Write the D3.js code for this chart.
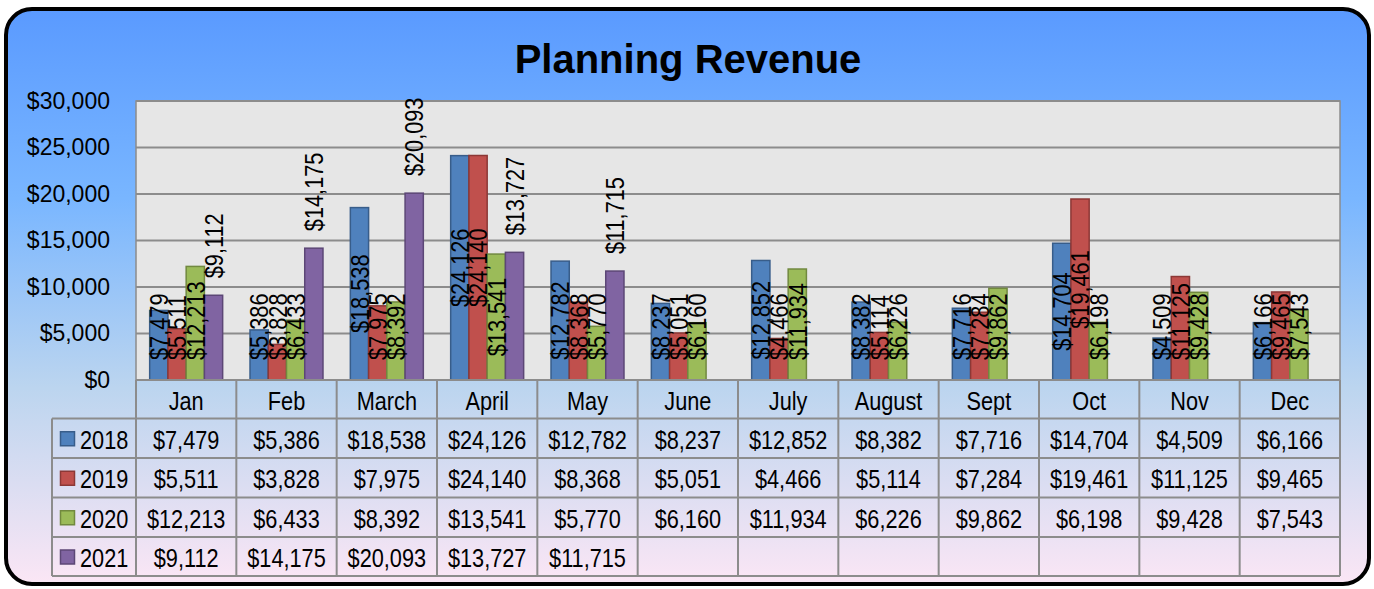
<!DOCTYPE html>
<html>
<head>
<meta charset="utf-8">
<script src="https://cdn.jsdelivr.net/npm/d3@7"></script>
<style>
  body { margin: 0; background: #fff; }
  svg { display: block; }
  .narrow { font-family: "Liberation Sans", Arial, sans-serif; }
</style>
</head>
<body>
<script>
const width = 1374;
const height = 589;

// chart data
const months = ['Jan', 'Feb', 'March', 'April', 'May', 'June', 'July', 'August', 'Sept', 'Oct', 'Nov', 'Dec'];
const years = ['2018', '2019', '2020', '2021'];
const rev2018 = [7479, 5386, 18538, 24126, 12782, 8237, 12852, 8382, 7716, 14704, 4509, 6166];
const rev2019 = [5511, 3828, 7975, 24140, 8368, 5051, 4466, 5114, 7284, 19461, 11125, 9465];
const rev2020 = [12213, 6433, 8392, 13541, 5770, 6160, 11934, 6226, 9862, 6198, 9428, 7543];
const rev2021 = [9112, 14175, 20093, 13727, 11715, null, null, null, null, null, null, null];
const yTicks = [0, 5000, 10000, 15000, 20000, 25000, 30000];

const seriesValues = [rev2018, rev2019, rev2020, rev2021];
const fills = ['#4f81bd', '#c0504d', '#9bbb59', '#8064a2'];
const strokes = ['#385d8a', '#8c3836', '#71893f', '#5c4776'];

const fmt = d3.format('$,');
// no narrow font installed, so squeeze Liberation Sans horizontally
const squeeze = 0.82;

const svg = d3.select('body').append('svg')
  .attr('width', width).attr('height', height);

const defs = svg.append('defs');
const grad = defs.append('linearGradient').attr('id', 'bg')
  .attr('x1', 0).attr('y1', 0).attr('x2', 0).attr('y2', 1);
[['0%', '#5a9aff'], ['33%', '#79b6ff'], ['66%', '#bcd5ef'], ['100%', '#fbe6f5']]
  .forEach(([o, c]) => grad.append('stop').attr('offset', o).attr('stop-color', c));

// outer rounded frame
svg.append('rect')
  .attr('x', 6).attr('y', 9).attr('width', 1363).attr('height', 575)
  .attr('rx', 26).attr('ry', 26)
  .attr('fill', 'url(#bg)').attr('stroke', '#000').attr('stroke-width', 4);

svg.append('text')
  .attr('x', 688).attr('y', 73)
  .attr('text-anchor', 'middle')
  .style('font-family', '"Liberation Sans", Arial, sans-serif')
  .style('font-weight', 'bold').style('font-size', '40px')
  .text('Planning Revenue');

const plot = {left: 136, right: 1340, top: 101, bottom: 380};

const x0 = d3.scaleBand().domain(months).range([plot.left, plot.right]).paddingInner(0).paddingOuter(0);
const x1 = d3.scaleBand().domain(years)
  .range([x0.bandwidth() * 0.75 / 5.5, x0.bandwidth() - x0.bandwidth() * 0.75 / 5.5]);
const y = d3.scaleLinear().domain([0, 30000]).range([plot.bottom, plot.top]);

svg.append('rect')
  .attr('x', plot.left).attr('y', plot.top)
  .attr('width', plot.right - plot.left).attr('height', plot.bottom - plot.top)
  .attr('fill', '#e6e6e6').attr('stroke', '#8c8c8c').attr('stroke-width', 1.5);

svg.append('g').selectAll('line').data(yTicks.slice(1)).join('line')
  .attr('x1', plot.left).attr('x2', plot.right)
  .attr('y1', d => y(d)).attr('y2', d => y(d))
  .attr('stroke', '#8c8c8c').attr('stroke-width', 2);

const yAxis = svg.append('g')
  .attr('transform', `translate(${plot.left},0)`)
  .call(d3.axisLeft(y).tickValues(yTicks).tickFormat(fmt).tickSize(0).tickPadding(26));
yAxis.select('.domain').remove();
yAxis.selectAll('text')
  .style('font-family', '"Liberation Sans", Arial, sans-serif')
  .style('font-size', '23px').attr('fill', '#000');

// bars
const flat = [];
seriesValues.forEach((vals, si) => vals.forEach((v, mi) => {
  if (v != null) flat.push({si, month: months[mi], year: years[si], v});
}));

svg.append('g').selectAll('rect').data(flat).join('rect')
  .attr('x', d => x0(d.month) + x1(d.year))
  .attr('y', d => y(d.v))
  .attr('width', x1.bandwidth())
  .attr('height', d => y(0) - y(d.v))
  .attr('fill', d => fills[d.si])
  .attr('stroke', d => strokes[d.si]).attr('stroke-width', 1.5);

// rotated data labels
const labels = svg.append('g').selectAll('text').data(flat).join('text')
  .attr('class', 'narrow')
  .style('font-size', '26.5px')
  .attr('text-anchor', 'middle')
  .attr('dominant-baseline', 'central')
  .text(d => fmt(d.v));

labels.each(function (d) {
  const len = this.getComputedTextLength() * squeeze;
  const cx = x0(d.month) + x1(d.year) + x1.bandwidth() / 2;
  let cy;
  if (d.si === 3) {
    cy = y(d.v) - 17 - len / 2;
  } else {
    cy = Math.min((y(d.v) + y(0)) / 2, y(0) - 20 - len / 2);
  }
  d3.select(this)
    .attr('transform', `translate(${cx},${cy}) rotate(-90) scale(${squeeze},1)`);
});

// data table below the plot
const rowTop = [380, 418.5, 458, 497.5, 537, 576];
const table = svg.append('g');
const lineColor = '#8c8c8c';

const cellText = (sel, x, yy, anchor) => sel.append('text')
  .attr('class', 'narrow')
  .attr('transform', `translate(${x},${yy}) scale(${squeeze},1)`)
  .attr('text-anchor', anchor).attr('dominant-baseline', 'central')
  .style('font-size', '26.5px');

// header cells (month names)
months.forEach(m => {
  cellText(table, x0(m) + x0.bandwidth() / 2, (rowTop[0] + rowTop[1]) / 2 + 1, 'middle').text(m);
});

// vertical lines
table.selectAll('line.v').data(d3.range(months.length + 1)).join('line')
  .attr('class', 'v')
  .attr('x1', i => plot.left + i * x0.bandwidth())
  .attr('x2', i => plot.left + i * x0.bandwidth())
  .attr('y1', rowTop[0]).attr('y2', rowTop[5])
  .attr('stroke', lineColor).attr('stroke-width', 2);
table.append('line')
  .attr('x1', 52).attr('x2', 52).attr('y1', rowTop[1]).attr('y2', rowTop[5])
  .attr('stroke', lineColor).attr('stroke-width', 2);

// horizontal lines
table.selectAll('line.h').data(rowTop).join('line')
  .attr('class', 'h')
  .attr('x1', (d, i) => i === 0 ? plot.left : 52).attr('x2', plot.right)
  .attr('y1', d => d).attr('y2', d => d)
  .attr('stroke', lineColor).attr('stroke-width', 2);

years.forEach((yr, si) => {
  const cy = (rowTop[si + 1] + rowTop[si + 2]) / 2 + 1;
  table.append('rect')
    .attr('x', 60.5).attr('y', cy - 7.5).attr('width', 14).attr('height', 14)
    .attr('fill', fills[si]).attr('stroke', strokes[si]).attr('stroke-width', 1.5);
  cellText(table, 80, cy, 'start').text(yr);
  seriesValues[si].forEach((v, mi) => {
    if (v == null) return;
    cellText(table, x0(months[mi]) + x0.bandwidth() / 2, cy, 'middle').text(fmt(v));
  });
});
</script>
</body>
</html>
